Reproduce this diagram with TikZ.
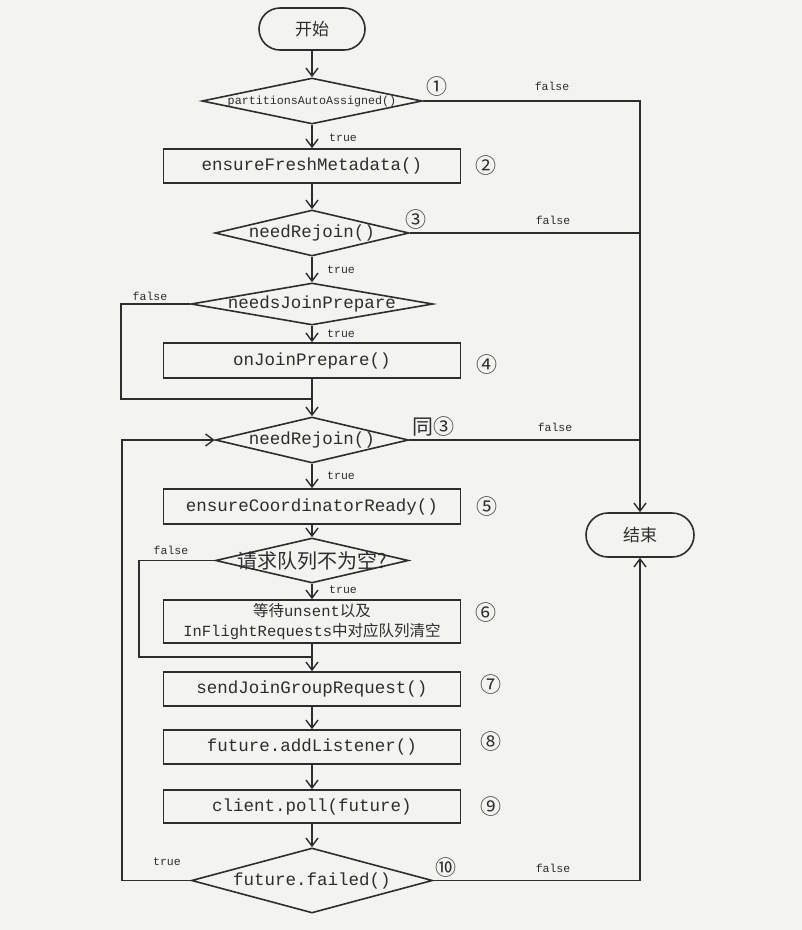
\documentclass[tikz,border=0pt]{standalone}
\usepackage{fontspec}
\setmonofont{Liberation Mono}
\newfontfamily\cjk{Noto Sans CJK SC}
\usetikzlibrary{shapes.geometric,shapes.misc,arrows.meta}
\definecolor{bg}{RGB}{243,243,241}
\definecolor{ln}{RGB}{45,45,45}
\begin{document}
\begin{tikzpicture}[x=1pt,y=-1pt,line width=1.6pt,color=ln,
  code/.style={font=\ttfamily\fontsize{17.5}{20}\selectfont},
  procbox/.style={draw=ln,rectangle,minimum width=297pt,minimum height=34pt,inner sep=0pt,code,text=ln},
  decide/.style={draw=ln,diamond,inner sep=0pt,code,text=ln},
  term/.style={draw=ln,rounded rectangle,minimum width=106pt,minimum height=42pt,inner sep=0pt,font=\cjk\fontsize{17}{20}\selectfont,text=ln},
  lbl/.style={font=\ttfamily\fontsize{11.5}{13}\selectfont,text=ln,inner sep=0pt},
  num/.style={font=\cjk\fontsize{21}{22}\selectfont,text=ln,inner sep=0pt},
  arr/.style={-{Straight Barb[length=8pt,width=12pt,line width=1.4pt]}}]
\fill[bg,draw=none] (0,0) rectangle (802,930);
\useasboundingbox (0,0) rectangle (802,930);

% nodes
\node[term] (start) at (312,29) {开始};
\node[decide,minimum width=220pt,minimum height=46pt] (d1) at (312,101) {\makebox[0pt]{\fontsize{11.7}{13}\selectfont partitionsAutoAssigned()}};
\node[procbox] (b2) at (312,166) {ensureFreshMetadata()};
\node[decide,minimum width=194pt,minimum height=46pt] (d3) at (312,233) {\makebox[0pt]{needRejoin()}};
\node[decide,minimum width=242pt,minimum height=42pt] (d3b) at (312,304) {\makebox[0pt]{needsJoinPrepare}};
\node[procbox,minimum height=35pt] (b4) at (312,360.5) {onJoinPrepare()};
\node[decide,minimum width=193pt,minimum height=46pt] (d5) at (312,440) {\makebox[0pt]{needRejoin()}};
\node[procbox,minimum height=35pt] (b5) at (312,506.5) {ensureCoordinatorReady()};
\node[decide,minimum width=193pt,minimum height=45pt] (d6) at (312,560.5) {\makebox[0pt]{\cjk\fontsize{20}{22}\selectfont 请求队列不为空?}};
\node[procbox,minimum height=43pt,align=center,font=\ttfamily\fontsize{15.5}{20}\selectfont] (b6) at (312,621.5) {{\cjk 等待}unsent{\cjk 以及}\\InFlightRequests{\cjk 中对应队列清空}};
\node[procbox] (b7) at (312,689) {sendJoinGroupRequest()};
\node[procbox] (b8) at (312,747) {future.addListener()};
\node[procbox,minimum height=33pt] (b9) at (312,806.5) {client.poll(future)};
\node[decide,minimum width=241pt,minimum height=65pt] (d10) at (312,880.5) {\makebox[0pt]{future.failed()}};
\node[term,minimum width=108pt,minimum height=44pt] (end) at (640,535) {结束};

% helper coordinates
\coordinate (m1) at (312,399);
\coordinate (l1) at (121,399);
\coordinate (m2) at (312,657);
\coordinate (l2) at (139,657);
\coordinate (l3) at (122,880.5);

% main flow
\draw[arr] (start) -- (d1);
\draw[arr] (d1) -- (b2);
\draw[arr] (b2) -- (d3);
\draw[arr] (d3) -- (d3b);
\draw[arr] (d3b) -- (b4);
\draw[arr] (b4) -- (d5);
\draw[arr] (d5) -- (b5);
\draw[arr] (b5) -- (d6);
\draw[arr] (d6) -- (b6);
\draw[arr] (b6) -- (b7);
\draw[arr] (b7) -- (b8);
\draw[arr] (b8) -- (b9);
\draw[arr] (b9) -- (d10);

% left loops
\draw (d3b.west) -| (l1) -- (m1);
\draw (d6.west) -| (l2) -- (m2);
\draw[arr] (d10.west) -- (l3) |- (d5.west);

% right exits
\draw[arr] (d1.east) -| (end.north);
\draw (d3.east) -- (d3.east -| end.north);
\draw (d5.east) -- (d5.east -| end.north);
\draw[arr] (d10.east) -| (end.south);

% branch labels
\node[lbl] (t1) at (343,138) {true};
\node[lbl] (t3) at (341,270) {true};
\node[lbl] (t3b) at (341,334) {true};
\node[lbl] (t5) at (341,476) {true};
\node[lbl] (t6) at (343,590) {true};
\node[lbl] (t10) at (167,862) {true};
\node[lbl] (f1) at (552,86) {false};
\node[lbl] (f3) at (553,220) {false};
\node[lbl] (f3b) at (150,296) {false};
\node[lbl] (f5) at (555,427) {false};
\node[lbl] (f6) at (171,550) {false};
\node[lbl] (f10) at (553,868) {false};

% step numbers
\node[num] (n1) at (437,87) {①};
\node[num] (n2) at (486,166) {②};
\node[num] (n3) at (416,220) {③};
\node[num] (n4) at (487,365) {④};
\node[num] (n3s) at (433,427) {同③};
\node[num] (n5) at (487,507) {⑤};
\node[num] (n6) at (486,613) {⑥};
\node[num] (n7) at (491,685) {⑦};
\node[num] (n8) at (491,742) {⑧};
\node[num] (n9) at (491,807) {⑨};
\node[num] (n10) at (446,868) {⑩};
\end{tikzpicture}
\end{document}
